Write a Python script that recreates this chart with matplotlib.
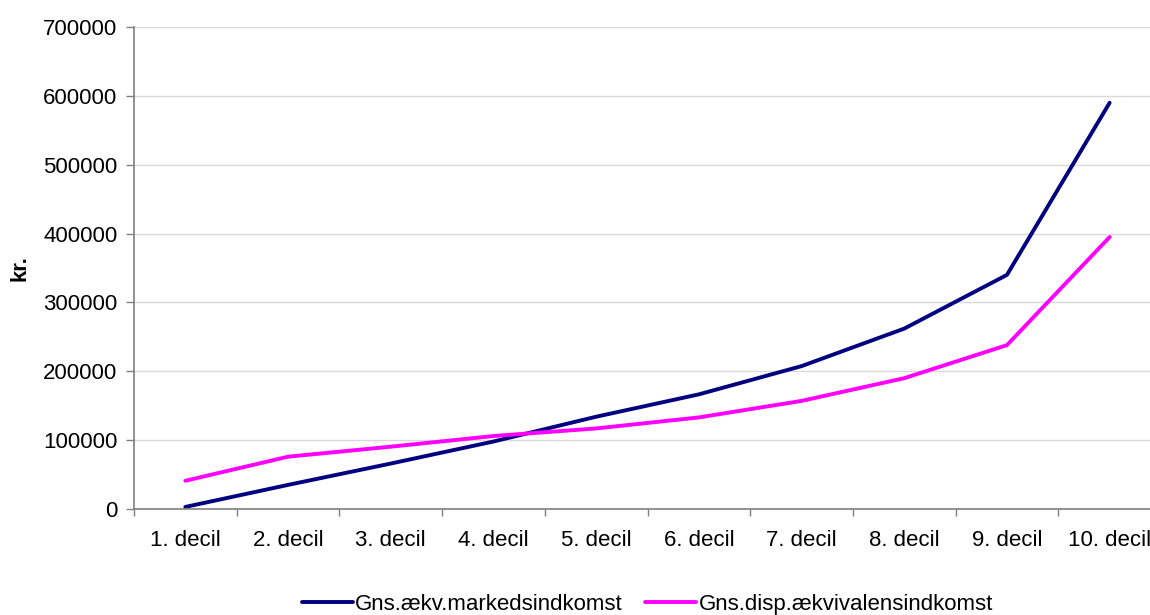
import matplotlib
matplotlib.use("Agg")
import matplotlib.pyplot as plt
import numpy as np

categories = ["1. decil", "2. decil", "3. decil", "4. decil", "5. decil",
              "6. decil", "7. decil", "8. decil", "9. decil", "10. decil"]
markeds = [3000, 35000, 66000, 98000, 134000, 166500, 207500, 262000, 340000, 590000]
disp = [41000, 76000, 90500, 106000, 117000, 133000, 157000, 190000, 238000, 395000]
series_names = ["Gns.ækv.markedsindkomst", "Gns.disp.ækvivalensindkomst"]
yticks = [0, 100000, 200000, 300000, 400000, 500000, 600000, 700000]

plt.rcParams['font.family'] = ['Liberation Sans', 'DejaVu Sans']
FS = 16

fig = plt.figure(figsize=(11.5, 6.15), dpi=100)
ax = fig.add_axes([134/1150, 106/615, 1027/1150, 482/615])

x = np.arange(len(categories))
ax.plot(x, markeds, color="#000080", lw=2.8, label=series_names[0], solid_capstyle='round')
ax.plot(x, disp, color="#FF00FF", lw=2.8, label=series_names[1], solid_capstyle='round')

ax.set_xlim(-0.5, len(categories) - 0.5)
ax.set_ylim(0, 700000)
ax.set_yticks(yticks)
ax.set_yticklabels([str(v) for v in yticks], fontsize=FS)
ax.yaxis.grid(True, color="#d9d9d9", lw=1)
ax.set_axisbelow(True)

ax.set_xticks(x)
ax.set_xticklabels(categories, fontsize=FS)
ax.set_xticks(np.arange(-0.5, len(categories)), minor=True)
ax.tick_params(axis='x', which='major', length=0, pad=15)
ax.tick_params(axis='x', which='minor', length=5, width=1, color="#808080", direction='out')
ax.tick_params(axis='y', length=6, width=1, color="#808080", pad=6)

for s in ['top', 'right']:
    ax.spines[s].set_visible(False)
for s in ['left', 'bottom']:
    ax.spines[s].set_color("#808080")
    ax.spines[s].set_linewidth(1.2)

ax.set_ylabel("kr.", fontsize=FS, fontweight='bold', labelpad=9)

leg = ax.legend(loc='center', bbox_to_anchor=(0.5, -0.198), ncol=2, frameon=False,
                fontsize=FS, handlelength=2.3, handletextpad=0.1, columnspacing=1.0)

fig.savefig("out.png", dpi=100)
